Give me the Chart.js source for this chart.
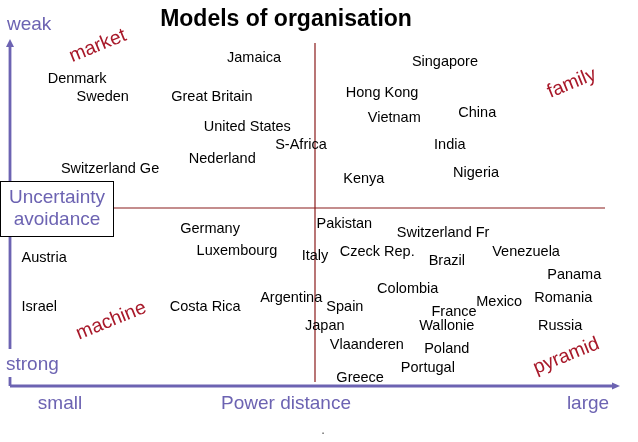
<!DOCTYPE html>
<html>
<head>
<meta charset="utf-8">
<script src="https://cdn.jsdelivr.net/npm/chart.js@4.4.0/dist/chart.umd.min.js"></script>
<style>
  body { margin: 0; background: #fff; }
  canvas { display: block; }
</style>
</head>
<body>
<canvas id="myChart" width="638" height="442"></canvas>
<script>
// countries placed by power distance (x) and uncertainty avoidance (y, 0 = weak, 100 = strong)
const countries = [
  "Jamaica", "Denmark", "Sweden", "Great Britain", "Singapore", "Hong Kong", "Vietnam", "China",
  "United States", "S-Africa", "India", "Nederland", "Switzerland Ge", "Kenya", "Nigeria",
  "Pakistan", "Germany", "Switzerland Fr", "Austria", "Luxembourg", "Italy", "Czeck Rep.",
  "Brazil", "Venezuela", "Panama", "Colombia", "Argentina", "Spain", "Israel", "Costa Rica",
  "France", "Mexico", "Romania", "Japan", "Wallonie", "Russia", "Vlaanderen", "Poland",
  "Portugal", "Greece"
];
const powerDistance = [
  40, 11, 15.2, 33.1, 71.3, 61, 63, 76.6,
  38.9, 47.7, 72.1, 34.8, 16.4, 58, 76.4,
  54.8, 32.8, 71, 5.6, 37.2, 50, 60.2,
  71.6, 84.6, 92.5, 65.2, 46.1, 54.9, 4.8, 32,
  72.8, 80.2, 90.7, 51.6, 71.6, 90.2, 58.5, 71.6,
  68.5, 57.4
];
const uncertaintyAvoidance = [
  7.9, 13.8, 18.8, 18.8, 9, 17.7, 24.7, 23.3,
  27.2, 32.3, 32.3, 36.2, 39, 41.9, 40.2,
  54.5, 55.9, 57, 64, 62.1, 63.5, 62.4,
  64.9, 62.4, 68.8, 72.8, 75.3, 77.8, 77.8, 77.8,
  79.2, 76.4, 75.3, 83.1, 83.1, 83.1, 88.5, 89.6,
  94.9, 97.8
];

const quadrantNames = ["market", "family", "machine", "pyramid"];
const quadrantX = [14.4, 92.1, 16.6, 91.2];
const quadrantY = [4.5, 15, 81.7, 91.6];

const purple = "#6c63b2";
const red = "#a8192a";
const lineRed = "#8a1c1c";
const font = "'Liberation Sans', Arial, sans-serif";

const labelPlugin = {
  id: "labels",
  beforeDatasetsDraw(chart) {
    const ctx = chart.ctx;
    const area = chart.chartArea;
    const xs = chart.scales.x;
    const ys = chart.scales.y;
    ctx.save();

    // quadrant lines
    ctx.strokeStyle = lineRed;
    ctx.lineWidth = 1.2;
    const midX = xs.getPixelForValue(50);
    const midY = ys.getPixelForValue(50);
    ctx.beginPath();
    ctx.moveTo(midX, 43);
    ctx.lineTo(midX, 382);
    ctx.moveTo(area.left, midY);
    ctx.lineTo(605, midY);
    ctx.stroke();

    // axes with arrows
    ctx.strokeStyle = purple;
    ctx.fillStyle = purple;
    ctx.lineWidth = 2.8;
    ctx.beginPath();
    ctx.moveTo(area.left, area.bottom);
    ctx.lineTo(area.left, 46);
    ctx.moveTo(area.left, area.bottom);
    ctx.lineTo(area.right - 6, area.bottom);
    ctx.stroke();
    ctx.beginPath();
    ctx.moveTo(area.left, 39);
    ctx.lineTo(area.left - 4, 47);
    ctx.lineTo(area.left + 4, 47);
    ctx.closePath();
    ctx.fill();
    ctx.beginPath();
    ctx.moveTo(area.right, area.bottom);
    ctx.lineTo(area.right - 8, area.bottom - 3.5);
    ctx.lineTo(area.right - 8, area.bottom + 3.5);
    ctx.closePath();
    ctx.fill();

    // axis texts
    ctx.font = "19px " + font;
    ctx.textBaseline = "middle";
    ctx.textAlign = "left";
    ctx.fillText("weak", 7, 25);
    ctx.fillStyle = "#fff";
    ctx.fillRect(4, 349, 62, 28);
    ctx.fillStyle = purple;
    ctx.fillText("strong", 6, 365);
    ctx.textAlign = "center";
    ctx.fillText("small", 60, 404);
    ctx.fillText("Power distance", 286, 404);
    ctx.fillText("large", 588, 404);

    // boxed y-axis title
    ctx.fillStyle = "#fff";
    ctx.fillRect(0, 181, 113, 55);
    ctx.strokeStyle = "#000";
    ctx.lineWidth = 1;
    ctx.strokeRect(0.5, 181.5, 113, 55);
    ctx.fillStyle = purple;
    ctx.fillText("Uncertainty", 57, 198);
    ctx.fillText("avoidance", 57, 220);

    // title
    ctx.fillStyle = "#000";
    ctx.font = "bold 23px " + font;
    ctx.fillText("Models of organisation", 286, 20);
    ctx.font = "13px " + font;
    ctx.fillStyle = "#555";
    ctx.fillText(".", 323, 430);

    // quadrant names
    ctx.fillStyle = red;
    ctx.font = "19.5px " + font;
    quadrantNames.forEach((name, i) => {
      ctx.save();
      ctx.translate(xs.getPixelForValue(quadrantX[i]), ys.getPixelForValue(quadrantY[i]));
      ctx.rotate(-22 * Math.PI / 180);
      ctx.fillText(name, 0, 0);
      ctx.restore();
    });
    ctx.restore();
  },
  afterDatasetsDraw(chart) {
    const ctx = chart.ctx;
    const meta = chart.getDatasetMeta(0);
    ctx.save();
    ctx.font = "14.5px " + font;
    ctx.fillStyle = "#000";
    ctx.textAlign = "center";
    ctx.textBaseline = "middle";
    meta.data.forEach((pt, i) => {
      ctx.fillText(countries[i], pt.x, pt.y);
    });
    ctx.restore();
  }
};

const ctx = document.getElementById("myChart").getContext("2d");
new Chart(ctx, {
  type: "scatter",
  data: {
    datasets: [{
      label: "countries",
      data: countries.map((c, i) => ({ x: powerDistance[i], y: uncertaintyAvoidance[i] })),
      pointRadius: 0,
      pointHoverRadius: 0
    }]
  },
  options: {
    responsive: false,
    animation: false,
    layout: { padding: { left: 10, right: 18, top: 30, bottom: 56 } },
    scales: {
      x: { type: "linear", min: 0, max: 100, display: false },
      y: { type: "linear", min: 0, max: 100, reverse: true, display: false }
    },
    plugins: {
      legend: { display: false },
      tooltip: { enabled: false },
      title: { display: false }
    }
  },
  plugins: [labelPlugin]
});
</script>
</body>
</html>
